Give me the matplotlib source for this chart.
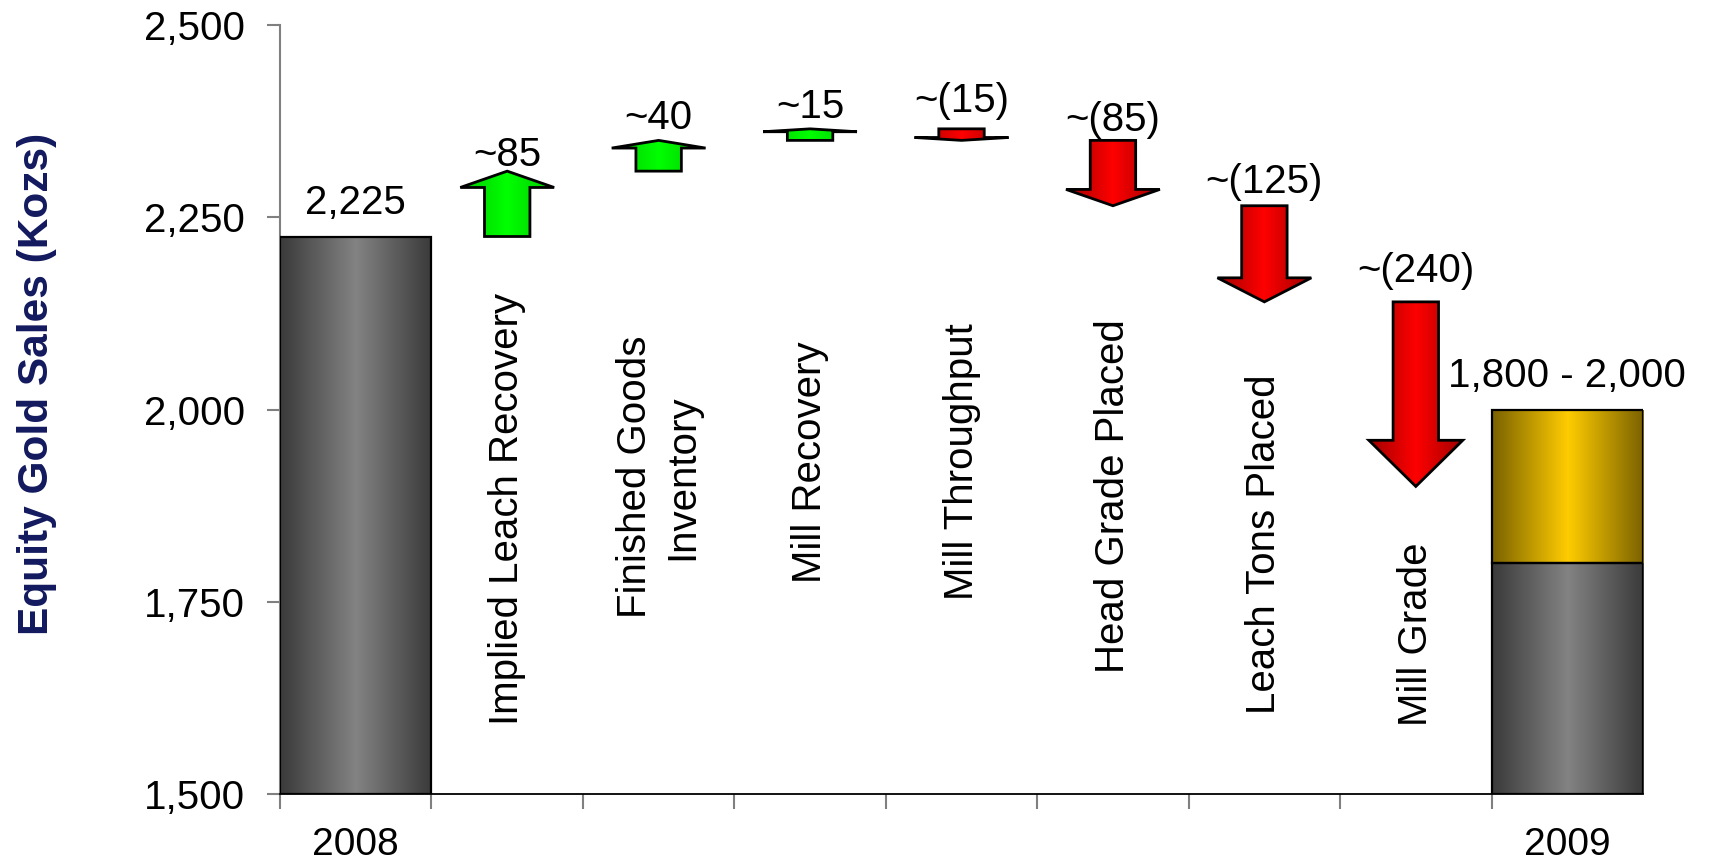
import matplotlib.pyplot as plt
import numpy as np
from matplotlib.patches import Polygon, Rectangle
from matplotlib.colors import LinearSegmentedColormap
from matplotlib.ticker import FuncFormatter

plt.rcParams['font.family'] = ['Liberation Sans', 'DejaVu Sans']

# data
start_value = 2225
changes = [85, 40, 15, -15, -85, -125, -240]
change_labels = ['~85', '~40', '~15', '~(15)', '~(85)', '~(125)', '~(240)']
categories = ['Implied Leach Recovery', 'Finished Goods\nInventory', 'Mill Recovery',
              'Mill Throughput', 'Head Grade Placed', 'Leach Tons Placed', 'Mill Grade']
end_low, end_high = 1800, 2000
year_labels = ['2008', '2009']
yticks = [1500, 1750, 2000, 2250, 2500]

# layout (not data)
cat_label_y = [1871, 1912, 1932, 1932, 1888, 1825, 1708]
change_offsets = [4, 8, 8, 12, 7, 9, 14]

fig = plt.figure(figsize=(17.15, 8.66), dpi=100)
ax = fig.add_axes([0.1633, 0.0831, 0.7947, 0.888])

grad = np.linspace(0, 1, 256)[None, :]


def grad_fill(patch, dark, light, x0, x1, y0, y1, z):
    cmap = LinearSegmentedColormap.from_list('g', [dark, light, dark])
    im = ax.imshow(grad, cmap=cmap, extent=[x0, x1, y0, y1], aspect='auto',
                   interpolation='bicubic', zorder=z)
    im.set_clip_path(patch)


def bar_box(x, lo, hi, dark, light):
    r = Rectangle((x - 0.5, lo), 1.0, hi - lo, facecolor='none',
                  edgecolor='black', lw=1.6, zorder=3)
    ax.add_patch(r)
    grad_fill(r, dark, light, x - 0.5, x + 0.5, lo, hi, 2)


def arrow(x, y0, y1, dark, light):
    s = np.sign(y1 - y0)
    hl = 0.25 * abs(y1 - y0)
    sw, hw = 0.15, 0.31
    yb = y1 - s * hl
    pts = [(x - sw, y0), (x - sw, yb), (x - hw, yb), (x, y1),
           (x + hw, yb), (x + sw, yb), (x + sw, y0)]
    p = Polygon(pts, closed=True, facecolor='none', edgecolor='black',
                lw=2, joinstyle='miter', zorder=3)
    ax.add_patch(p)
    grad_fill(p, dark, light, x - hw, x + hw, min(y0, y1), max(y0, y1), 2)


# 2008 bar
bar_box(0, 1500, start_value, '#3a3a3a', '#838383')
ax.annotate(f'{start_value:,}', (0, start_value), xytext=(0, 16),
            textcoords='offset points', ha='center', va='baseline', fontsize=29)

# bridge arrows
level = start_value
for i, d in enumerate(changes):
    x = i + 1
    if d > 0:
        arrow(x, level, level + d, '#00c800', '#00ff00')
    else:
        arrow(x, level, level + d, '#a00000', '#ff0000')
    top = max(level, level + d)
    ax.annotate(change_labels[i], (x, top), xytext=(0, change_offsets[i]),
                textcoords='offset points', ha='center', va='baseline', fontsize=29)
    ax.text(x, cat_label_y[i], categories[i], rotation=90, ha='center', va='center',
            fontsize=29, multialignment='center', linespacing=1.3)
    level += d

# 2009 range bar
n = len(changes) + 1
bar_box(n, 1500, end_low, '#3a3a3a', '#838383')
bar_box(n, end_low, end_high, '#7a6200', '#ffcc00')
ax.annotate(f'{end_low:,} - {end_high:,}', (n, end_high), xytext=(0, 16),
            textcoords='offset points', ha='center', va='baseline', fontsize=29)

ax.set_xlim(-0.5, n + 0.5)
ax.set_ylim(1500, 2500)

ax.set_yticks(yticks)
ax.yaxis.set_major_formatter(FuncFormatter(lambda v, p: f'{int(v):,}'))
ax.tick_params(axis='y', length=9.5, width=1.5, color='#808080', pad=16, labelsize=29)

ax.set_xticks(np.arange(n + 1) - 0.5)
ax.set_xticks([0, n], minor=True)
ax.set_xticklabels([''] * (n + 1))
ax.set_xticklabels(year_labels, minor=True)
ax.tick_params(axis='x', which='major', length=11, width=1.5, color='#808080')
ax.tick_params(axis='x', which='minor', length=0, pad=24, labelsize=28)

for s in ['top', 'right']:
    ax.spines[s].set_visible(False)
ax.spines['left'].set_color('#808080')
ax.spines['left'].set_linewidth(1.5)
ax.spines['bottom'].set_color('black')
ax.spines['bottom'].set_linewidth(1.3)

ax.set_ylabel('Equity Gold Sales (Kozs)', fontsize=30.5, fontweight='bold', color='#12195e')
ax.yaxis.set_label_coords(-0.164, 0.534)

fig.savefig('out.png', dpi=100)
